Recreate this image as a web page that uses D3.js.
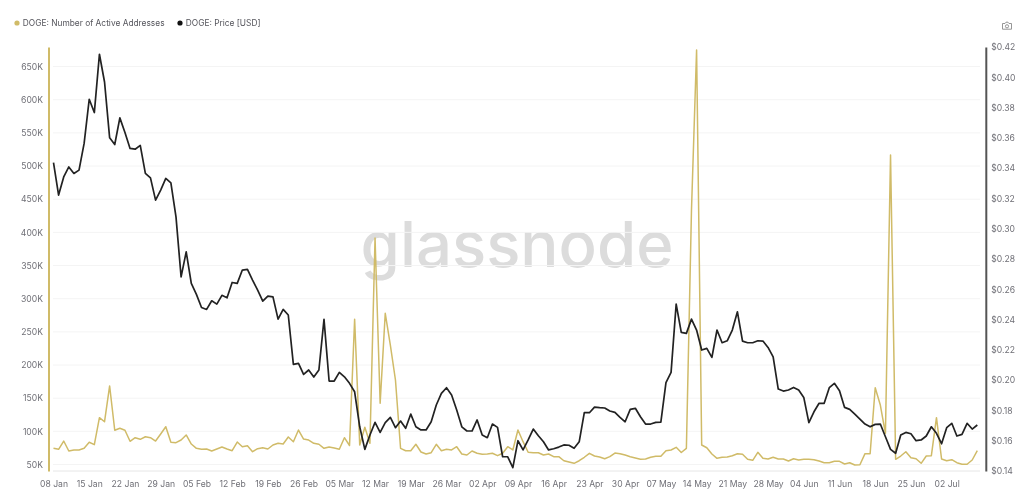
<!DOCTYPE html>
<html>
<head>
<meta charset="utf-8">
<script src="https://cdn.jsdelivr.net/npm/d3@7/dist/d3.min.js"></script>
<style>
html,body{margin:0;padding:0;background:#fff;}
svg{display:block;filter:blur(0.35px);}
text{font-family:Inter,"Noto Sans",sans-serif;}
</style>
</head>
<body>
<svg id="chart" width="1024" height="501"></svg>
<script>
const startDate = "2025-01-08";
const xTickDates = ["2025-01-08","2025-01-15","2025-01-22","2025-01-29","2025-02-05","2025-02-12","2025-02-19","2025-02-26","2025-03-05","2025-03-12","2025-03-19","2025-03-26","2025-04-02","2025-04-09","2025-04-16","2025-04-23","2025-04-30","2025-05-07","2025-05-14","2025-05-21","2025-05-28","2025-06-04","2025-06-11","2025-06-18","2025-06-25","2025-07-02"];
const leftTicks = [50,100,150,200,250,300,350,400,450,500,550,600,650];
const rightTicks = [0.14,0.16,0.18,0.20,0.22,0.24,0.26,0.28,0.30,0.32,0.34,0.36,0.38,0.40,0.42];
// Number of active addresses, thousands
const activeAddresses = [74.4,72.9,85.4,70.4,71.9,71.9,74.4,83.5,79.9,120.6,114.5,168.4,101.6,104.6,101.6,85,90.4,88,91.9,90.4,85.4,96,107,83.5,82.9,86.9,94.5,80.9,74.4,72.9,73.4,70.4,73.4,76.4,73.4,70.8,83.9,76.8,78.3,69.3,73.8,75.3,73.4,79.4,82,80.9,91.5,84.4,102,88.4,86.9,82,80.5,74.4,76.4,74.9,72.9,90.4,78.6,268.9,79.4,106.1,82,391.5,142.3,278,230,177.4,74.4,70.8,70.8,80.5,68.8,65.8,67.8,80.5,70.8,72.9,71.9,76.8,65.8,64.3,70.4,66.9,65.4,65.8,66.9,63.3,66.9,76.8,71.9,102,84.4,68.4,67.8,67.8,64.3,65.8,61.8,61.8,55.7,53.8,51.8,55.7,60.9,66.9,62.8,61.3,58.7,61.8,67.3,66.3,64.3,61.8,59.8,57.8,58.3,60.9,62.4,62.4,70.8,71.9,75.9,68.1,74.4,433.7,675,79.4,75.3,65.8,59.3,60.9,61.3,63.3,66.3,65.4,57.8,56.3,68.4,59.3,58.3,60.9,58.3,58.3,55.3,58.7,56.8,57.8,57.8,57.2,55.3,52.7,52.7,54.8,54.8,50.8,52.7,49.2,49.7,66.3,66.3,165.8,139.7,97,516.6,57.8,62.8,69.3,60.3,58.7,51.8,62.8,63.3,120.6,58.3,55.7,57.2,52.7,50.3,50.3,56.8,70.8];
// Price, USD
const price = [.3437,.3222,.3342,.3408,.3365,.3387,.3563,.3855,.3767,.4152,.3969,.36,.3556,.3732,.3635,.353,.3525,.355,.3365,.3336,.3189,.3255,.3332,.3303,.3078,.2682,.2847,.2639,.2566,.248,.2467,.2524,.2502,.256,.2544,.2645,.2639,.2727,.2731,.2661,.2595,.2522,.2555,.255,.2403,.2467,.243,.2104,.2111,.2038,.2067,.202,.2067,.2401,.1994,.1994,.2051,.2022,.1979,.1923,.1692,.1543,.1638,.1721,.1655,.1719,.1754,.1686,.173,.1682,.1776,.1692,.1671,.1671,.1725,.1836,.1913,.195,.1902,.1803,.1692,.1664,.1664,.1737,.1638,.162,.171,.1688,.1494,.1494,.1422,.16,.1539,.1605,.1677,.1633,.1593,.1539,.1547,.1558,.1572,.157,.155,.1593,.1785,.1785,.1822,.1818,.1816,.1796,.1787,.1754,.1725,.1807,.1814,.1758,.171,.171,.1721,.1723,.1983,.2051,.2502,.2315,.2309,.2403,.2331,.2199,.221,.215,.2331,.2247,.226,.2331,.2451,.2258,.2247,.2247,.226,.2258,.2216,.2154,.1941,.1928,.1935,.1952,.1935,.1886,.1719,.1791,.1847,.1847,.195,.1979,.193,.182,.1807,.1776,.1743,.171,.1692,.1708,.171,.1626,.1543,.1517,.1638,.1655,.1646,.16,.1605,.1631,.1692,.1649,.158,.1686,.1715,.1631,.1642,.1715,.1677,.1704];
const seriesNames = ["DOGE: Number of Active Addresses","DOGE: Price [USD]"];
const watermark = "glassnode";

const GOLD = "#d0bb68", BLACK = "#222222", TXT = "#6f6f76";
const parse = d3.utcParse("%Y-%m-%d");
const start = parse(startDate);
const dates = price.map((_, i) => d3.utcDay.offset(start, i));

const svg = d3.select("#chart");
const x = d3.scaleUtc().domain([start, dates[dates.length - 1]]).range([53.5, 977.3]);
const yL = d3.scaleLinear().domain([40.2, 679.5]).range([471, 47]);
const yR = d3.scaleLinear().domain([0.14, 0.42]).range([471, 47]);

// Watermark
svg.append("text").attr("x", 517).attr("y", 267).attr("text-anchor", "middle")
  .attr("font-size", 63.5).attr("font-weight", 500).attr("fill", "#dcdcdc")
  .style("font-family", "Inter,sans-serif").text(watermark);

// Grid
svg.append("g").selectAll("line").data(leftTicks).join("line")
  .attr("x1", 53).attr("x2", 980).attr("y1", d => yL(d)).attr("y2", d => yL(d))
  .attr("stroke", "#f4f4f4").attr("stroke-width", 1);

// Axes
const fmtX = d3.utcFormat("%d %b");
const axB = svg.append("g").attr("transform", "translate(0,471)")
  .call(d3.axisBottom(x).tickValues(xTickDates.map(parse)).tickFormat(fmtX).tickSize(0).tickPadding(10));
axB.select(".domain").attr("stroke", "#e6e6e6").attr("d", "M53,0H980");
axB.selectAll("text").attr("fill", TXT).attr("font-size", 8.6).style("font-family", "Inter,sans-serif");

const axL = svg.append("g").attr("transform", "translate(48.5,0)")
  .call(d3.axisLeft(yL).tickValues(leftTicks).tickFormat(d => d + "K").tickSize(0).tickPadding(5.5));
axL.select(".domain").attr("stroke", GOLD).attr("stroke-width", 2);
axL.selectAll("text").attr("fill", TXT).attr("font-size", 8.6).style("font-family", "Inter,sans-serif");

const axR = svg.append("g").attr("transform", "translate(985.8,0)")
  .call(d3.axisRight(yR).tickValues(rightTicks).tickFormat(d => "$" + d.toFixed(2)).tickSize(0).tickPadding(5.5));
axR.select(".domain").attr("stroke", "#555555").attr("stroke-width", 2);
axR.selectAll("text").attr("fill", TXT).attr("font-size", 8.6).style("font-family", "Inter,sans-serif");

// Lines
const lineL = d3.line().x((d, i) => x(dates[i])).y(d => yL(d));
const lineR = d3.line().x((d, i) => x(dates[i])).y(d => yR(d));
svg.append("path").datum(activeAddresses).attr("d", lineL).attr("fill", "none")
  .attr("stroke", GOLD).attr("stroke-width", 1.5).attr("stroke-linejoin", "round");
svg.append("path").datum(price).attr("d", lineR).attr("fill", "none")
  .attr("stroke", BLACK).attr("stroke-width", 1.7).attr("stroke-linejoin", "round");

// Legend
const legendX = [17, 180], legendColors = [GOLD, "#111111"];
const lg = svg.append("g").selectAll("g").data(seriesNames).join("g")
  .attr("transform", (d, i) => `translate(${legendX[i]},23)`);
lg.append("circle").attr("r", 2.6).attr("fill", (d, i) => legendColors[i]);
lg.append("text").attr("x", 5.8).attr("dy", "0.35em").attr("font-size", 8.35).attr("fill", "#55555c").text(d => d);

// Camera icon
const cam = svg.append("g").attr("transform", "translate(1007,26)").attr("fill", "none").attr("stroke", "#8a8a8a").attr("stroke-width", 0.9);
cam.append("path").attr("d", "M-4.5,-2.5H-2L-1,-3.8H1L2,-2.5H4.5V3.2H-4.5Z");
cam.append("circle").attr("r", 1.6).attr("cy", 0.3);
</script>
</body>
</html>
